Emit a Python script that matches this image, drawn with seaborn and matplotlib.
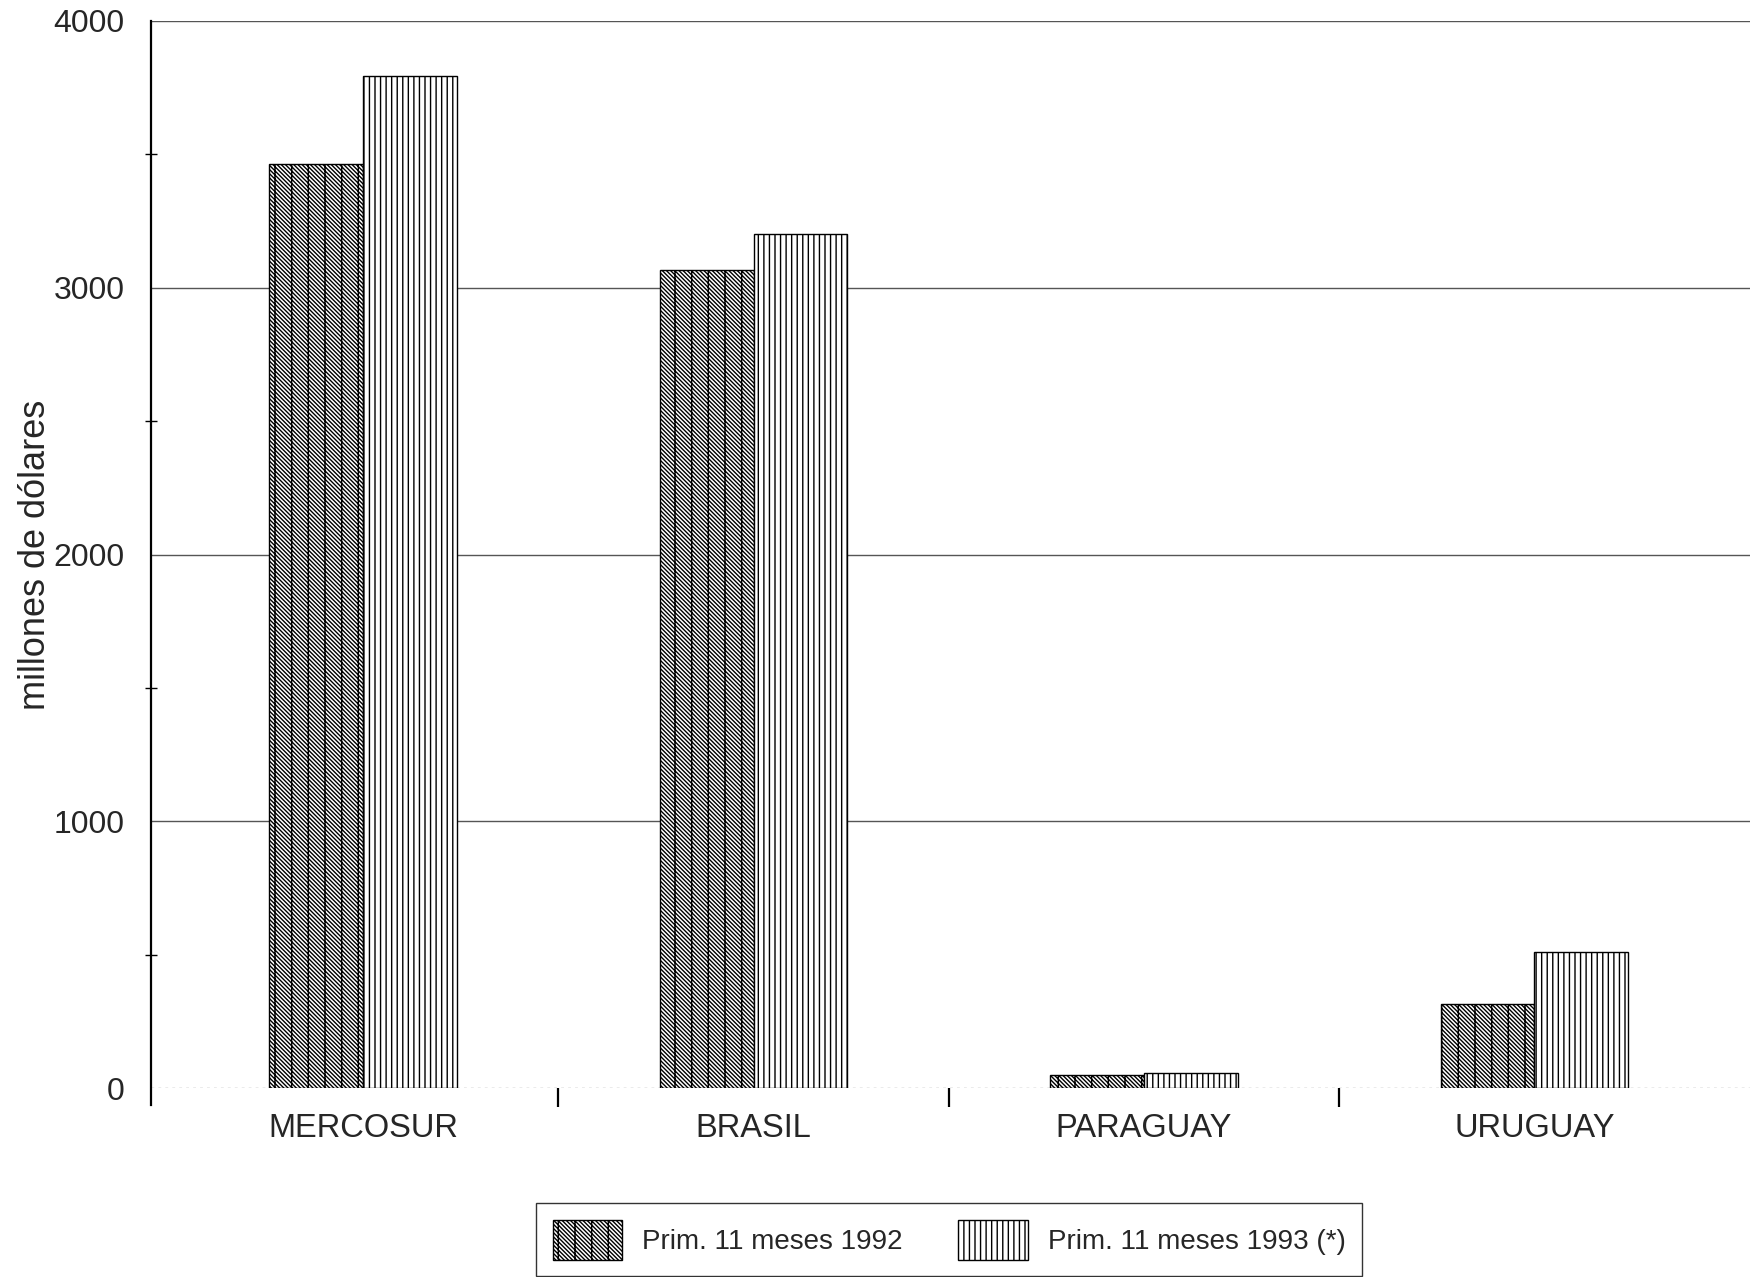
import matplotlib
matplotlib.use("Agg")
import matplotlib.pyplot as plt
import matplotlib.patches as mpatches
from matplotlib.ticker import FixedLocator
import seaborn as sns
import pandas as pd

categories = ["MERCOSUR", "BRASIL", "PARAGUAY", "URUGUAY"]
series_names = ["Prim. 11 meses 1992", "Prim. 11 meses 1993 (*)"]
values_1992 = [3465, 3068, 49, 316]
values_1993 = [3795, 3200, 57, 508]
y_ticks = [0, 1000, 2000, 3000, 4000]
y_label = "millones de dólares"

sns.set_style("white")
plt.rcParams["font.family"] = ["Liberation Sans", "DejaVu Sans"]
plt.rcParams["hatch.linewidth"] = 1.0
plt.rcParams["hatch.color"] = "black"

df = pd.DataFrame({
    "pais": categories * 2,
    "serie": [series_names[0]] * 4 + [series_names[1]] * 4,
    "valor": values_1992 + values_1993,
})

fig = plt.figure(figsize=(17.5, 12.77), dpi=100)
ax = fig.add_axes([151 / 1750, 1 - 1088 / 1277, 1 - 151 / 1750, (1088 - 21) / 1277])

sns.barplot(data=df, x="pais", y="valor", hue="serie", order=categories,
            hue_order=series_names, width=0.48, gap=0, dodge=True,
            palette=["white", "white"], edgecolor="black", linewidth=1.0,
            errorbar=None, legend=False, ax=ax, saturation=1)

hatches = ["\\" * 8 + "|", "|||"]
for cont, h in zip(ax.containers, hatches):
    for bar in cont:
        bar.set_hatch(h)
        bar.set_edgecolor("black")
        bar.set_facecolor("white")

ax.set_xlim(-0.543, 3.552)
ax.set_ylim(0, 4000)
ax.set_yticks(y_ticks)
ax.set_yticklabels([str(t) for t in y_ticks], fontsize=23)
ax.yaxis.set_minor_locator(FixedLocator([500, 1500, 2500, 3500]))
ax.tick_params(axis="y", which="major", direction="out", length=7, width=1, pad=12, color="black")
ax.tick_params(axis="y", which="minor", direction="inout", length=8, width=1, color="black", left=True)

ax.set_xticks(range(len(categories)))
ax.set_xticklabels(categories, fontsize=23.5)
ax.xaxis.set_minor_locator(FixedLocator([0.5, 1.5, 2.5]))
ax.tick_params(axis="x", which="major", length=0, pad=18)
ax.tick_params(axis="x", which="minor", direction="out", length=14, width=1.6, color="black", bottom=True)

ax.set_xlabel("")
ax.set_ylabel(y_label, fontsize=26)
ax.yaxis.set_label_coords(-0.061, 0.5)

for s in ["top", "right", "bottom"]:
    ax.spines[s].set_visible(False)
ax.spines["left"].set_color("black")
ax.spines["left"].set_linewidth(1.6)
ax.spines["left"].set_bounds(-64, 4000)

ax.set_axisbelow(True)
ax.yaxis.grid(True, color="#555555", linewidth=1.0)
gls = ax.yaxis.get_gridlines()
gls[0].set_color("#999999")
gls[0].set_linestyle((0, (2, 3)))

handles = [
    mpatches.Patch(facecolor="white", edgecolor="black", hatch=hatches[0], linewidth=1.0),
    mpatches.Patch(facecolor="white", edgecolor="black", hatch=hatches[1], linewidth=1.0),
]
leg = fig.legend(handles, series_names, loc="upper left",
                 bbox_to_anchor=(536 / 1750, 1 - 1203 / 1277), borderaxespad=0,
                 ncol=2, frameon=True, fancybox=False, shadow=False,
                 prop={"family": "Liberation Sans", "size": 20},
                 handlelength=2.5, handleheight=1.83, handletextpad=0.72,
                 columnspacing=2.0, borderpad=0.6)
leg.get_frame().set_edgecolor("black")
leg.get_frame().set_linewidth(1.0)

fig.savefig("out.png", dpi=100)
